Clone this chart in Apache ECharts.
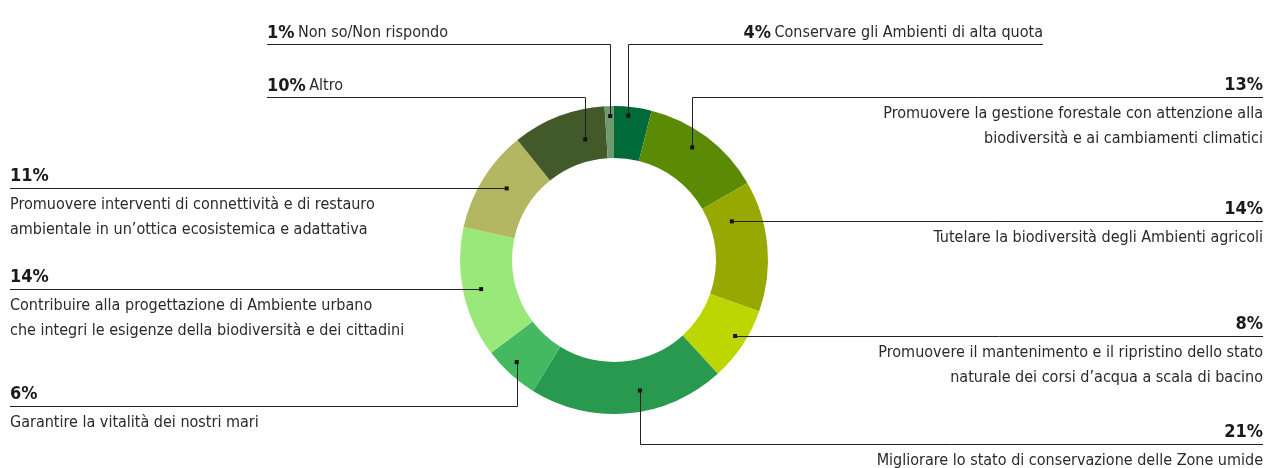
<!DOCTYPE html>
<html>
<head>
<meta charset="utf-8">
<script src="https://cdn.jsdelivr.net/npm/echarts@6/dist/echarts.min.js"></script>
<style>
html, body { margin: 0; padding: 0; background: #fff; }
#chart { width: 1266px; height: 468px; }
</style>
</head>
<body>
<div id="chart"></div>
<script>
// slices, clockwise from the top
var categories = [
    'Conservare gli Ambienti di alta quota',
    'Promuovere la gestione forestale con attenzione alla\nbiodiversità e ai cambiamenti climatici',
    'Tutelare la biodiversità degli Ambienti agricoli',
    'Promuovere il mantenimento e il ripristino dello stato\nnaturale dei corsi d’acqua a scala di bacino',
    'Migliorare lo stato di conservazione delle Zone umide',
    'Garantire la vitalità dei nostri mari',
    'Contribuire alla progettazione di Ambiente urbano\nche integri le esigenze della biodiversità e dei cittadini',
    'Promuovere interventi di connettività e di restauro\nambientale in un’ottica ecosistemica e adattativa',
    'Altro',
    'Non so/Non rispondo'
];
var percents = [4, 13, 14, 8, 21, 6, 14, 11, 10, 1];
var colors = ['#006b38', '#5b8a05', '#97a800', '#bbd600', '#2a9950',
              '#45b862', '#9be87a', '#b3b762', '#42592a', '#6f9a70'];

// layout of the ring and of the leader lines
var CX = 614, CY = 260, R_IN = 102, R_OUT = 154;
var anchorShare = [0.4, 0.45, 0.24, 0.45, 0.42, 0.56, 0.5, 0.55, 0.72, 0.57];
var anchorRadius = [145, 137, 124, 143, 133, 141, 136, 129, 124, 144];
var labelSide = ['right', 'right', 'right', 'right', 'right', 'left', 'left', 'left', 'left', 'left'];
var lineEndX = [1043, 1263, 1263, 1263, 1263, 10, 10, 10, 267, 267];
var lineY = [44, 97, null, null, 444, 406, null, null, 97, 44];   // null = level with the dot
var oneLine = [true, false, false, false, false, false, false, false, true, true];

var FONT = '"Liberation Sans Narrow", "DejaVu Sans Condensed", sans-serif';

var total = percents.reduce(function (a, b) { return a + b; }, 0);
var anchors = [];
var cum = 0;
percents.forEach(function (v, i) {
    anchors.push(cum + v * anchorShare[i]);
    cum += v;
});

function anchorPixel(i) {
    var a = anchors[i] / total * 2 * Math.PI;
    return [CX + anchorRadius[i] * Math.sin(a), CY - anchorRadius[i] * Math.cos(a)];
}

var chart = echarts.init(document.getElementById('chart'));

var pieBase = {
    type: 'pie',
    center: [CX, CY],
    radius: [R_IN, R_OUT],
    startAngle: 90,
    clockwise: true,
    avoidLabelOverlap: false,
    silent: true
};

var option = {
    animation: false,
    polar: { center: [CX, CY], radius: R_OUT },
    angleAxis: { type: 'value', min: 0, max: total, startAngle: 90, clockwise: true, show: false },
    radiusAxis: { type: 'value', min: 0, max: R_OUT, show: false },
    series: [
        // the ring
        Object.assign({}, pieBase, {
            z: 1,
            label: { show: false },
            labelLine: { show: false },
            data: percents.map(function (v, i) {
                return { name: categories[i], value: v, itemStyle: { color: colors[i] } };
            })
        }),
        // same slices, see-through, carrying labels and leader lines above the ring
        Object.assign({}, pieBase, {
            z: 3,
            itemStyle: { color: 'rgba(0,0,0,0)' },
            data: percents.map(function (v, i) {
                return { name: categories[i], value: v };
            }),
            label: {
                show: true,
                position: 'outside',
                color: '#222',
                fontFamily: FONT,
                formatter: function (p) {
                    var i = p.dataIndex;
                    var pct = '{p|' + percents[i] + '%}';
                    if (oneLine[i]) return pct + ' {t|' + categories[i] + '}';
                    return pct + '\n{s| }\n' + categories[i].split('\n').map(function (l) {
                        return '{t|' + l + '}';
                    }).join('\n');
                },
                rich: {
                    p: { fontFamily: FONT, fontWeight: 'bold', fontSize: 18, lineHeight: 24, color: '#1a1a1a' },
                    s: { fontSize: 1, lineHeight: 4 },
                    t: { fontFamily: FONT, fontSize: 16, lineHeight: 25, color: '#2a2a2a' }
                }
            },
            labelLine: {
                show: true,
                lineStyle: { color: '#222', width: 1 }
            },
            labelLayout: function (p) {
                var i = p.dataIndex;
                var d = anchorPixel(i);
                var ly = Math.round(lineY[i] != null ? lineY[i] : d[1]) + 0.5;
                var dx = Math.round(d[0]) + 0.5;
                return {
                    x: lineEndX[i],
                    y: oneLine[i] ? ly + 1 : ly - 24,
                    align: labelSide[i] === 'right' ? 'right' : 'left',
                    verticalAlign: oneLine[i] ? 'bottom' : 'top',
                    labelLinePoints: [[dx, d[1]], [dx, ly], [lineEndX[i], ly]]
                };
            }
        }),
        // anchor dots
        {
            type: 'scatter',
            coordinateSystem: 'polar',
            symbol: 'rect',
            symbolSize: 4,
            silent: true,
            z: 5,
            itemStyle: { color: '#111', opacity: 1 },
            data: anchors.map(function (a, i) { return [anchorRadius[i], a]; })
        }
    ]
};

chart.setOption(option);
</script>
</body>
</html>
